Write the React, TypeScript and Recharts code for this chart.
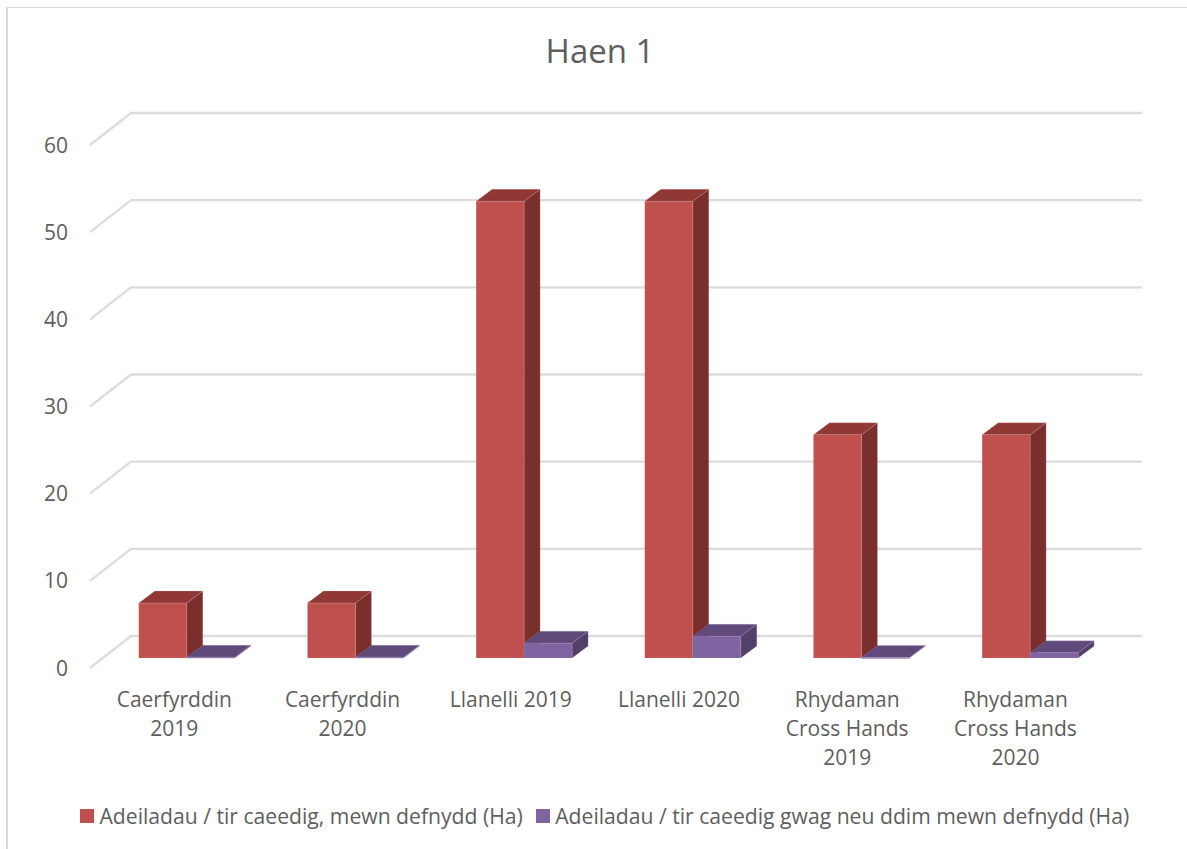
import React from "react";
import { BarChart, Bar, XAxis, YAxis, Legend, CartesianGrid } from "recharts";

const categories = [
  "Caerfyrddin 2019",
  "Caerfyrddin 2020",
  "Llanelli 2019",
  "Llanelli 2020",
  "Rhydaman Cross Hands 2019",
  "Rhydaman Cross Hands 2020",
];
const inUse = [6.3, 6.3, 52.4, 52.4, 25.6, 25.6];
const vacant = [0.1, 0.1, 1.7, 2.5, 0.05, 0.6];
const yTicks = [0, 10, 20, 30, 40, 50, 60];
const inUseName = "Adeiladau / tir caeedig, mewn defnydd (Ha)";
const vacantName = "Adeiladau / tir caeedig gwag neu ddim mewn defnydd (Ha)";
const titleText = "Haen 1";

const data = categories.map((name, i) => ({ name, inUse: inUse[i], vacant: vacant[i] }));

const FONT = '"Open Sans", "Noto Sans", sans-serif';
const TEXT = "#5e5e5e";
const GRID = "#dcdcdc";
const BAR_SHIFT = 12.8;
const DX = 16;
const DY = 12;

function Box3D(props: any) {
  const { x, y, width, height, front, top, side, edge } = props;
  const l = x + BAR_SHIFT;
  const r = l + width;
  const b = y + height;
  const st = { stroke: edge, strokeWidth: 0.6, strokeOpacity: 0.3 };
  return (
    <g>
      <polygon points={`${r},${y} ${r + DX},${y - DY} ${r + DX},${b - DY} ${r},${b}`} fill={side} {...st} />
      <polygon points={`${l},${y} ${l + DX},${y - DY} ${r + DX},${y - DY} ${r},${y}`} fill={top} {...st} />
      <rect x={l} y={y} width={width} height={Math.max(height, 1)} fill={front} {...st} />
    </g>
  );
}

function GridLine(props: any) {
  const { x1, y1 } = props;
  const x = x1;
  const y = y1;
  return (
    <polyline
      points={`${x},${y + 10} ${x + 41},${y - 22} ${x + 1052},${y - 22}`}
      fill="none"
      stroke={GRID}
      strokeWidth={2.4}
    />
  );
}

function YTick(props: any) {
  const { x, y, payload } = props;
  return (
    <text x={x - 22} y={y + 10} dy="0.36em" textAnchor="end" fontFamily={FONT} fontSize={21} fill={TEXT}>
      {payload.value}
    </text>
  );
}

function wrapWords(label: string) {
  const lines: string[] = [];
  let cur = "";
  for (const w of label.split(" ")) {
    const next = cur ? cur + " " + w : w;
    if (next.length > 13 && cur) {
      lines.push(cur);
      cur = w;
    } else cur = next;
  }
  lines.push(cur);
  return lines;
}

function XTick(props: any) {
  const { x, payload, index } = props;
  const cx = x - (index || 0) * 0.45;
  return (
    <text textAnchor="middle" fontFamily={FONT} fontSize={21} fill={TEXT}>
      {wrapWords(String(payload.value)).map((line, i) => (
        <tspan key={i} x={cx} y={707 + i * 29}>
          {line}
        </tspan>
      ))}
    </text>
  );
}

function LegendContent(props: any) {
  const items = props.payload || [];
  return (
    <div style={{ display: "flex", fontFamily: FONT, fontSize: 21.15, color: TEXT, whiteSpace: "nowrap", lineHeight: "28px" }}>
      {items.map((it: any, i: number) => (
        <div key={i} style={{ display: "flex", alignItems: "center", marginRight: 13 }}>
          <span style={{ width: 14, height: 14, background: it.color, marginRight: 5.5, display: "inline-block" }} />
          <span>{it.value}</span>
        </div>
      ))}
    </div>
  );
}

export default function App() {
  return (
    <div style={{ position: "absolute", left: 0, top: 0, width: 1187, height: 849, overflow: "hidden", background: "#fff" }}>
      <div style={{ position: "absolute", left: 6, top: 6.5, width: 1200, height: 900, borderLeft: "2px solid #d9d9d9", borderTop: "1.5px solid #d9d9d9" }} />
      <div style={{ position: "absolute", left: 0, width: 1200, top: 28, textAlign: "center", fontFamily: FONT, fontSize: 33, lineHeight: "46px", color: TEXT }}>
        {titleText}
      </div>
      <div style={{ position: "absolute", left: 0, top: 0 }}>
        <BarChart
          width={1187}
          height={849}
          data={data}
          barSize={48}
          barGap={0}
          margin={{ top: 135, right: 85, bottom: 61, left: 0 }}
        >
          <CartesianGrid vertical={false} horizontal={<GridLine />} />
          <XAxis dataKey="name" interval={0} height={100} axisLine={false} tickLine={false} tick={<XTick />} />
          <YAxis domain={[0, 60]} ticks={yTicks} width={90} axisLine={false} tickLine={false} tickSize={0} tickMargin={0} tick={<YTick />} />
          <Legend
            content={<LegendContent />}
            itemSorter={null}
            height={30}
            wrapperStyle={{ position: "absolute", left: 80, top: 802, bottom: "auto", width: 1100 }}
          />
          <Bar dataKey="inUse" name={inUseName} fill="#C0504D" isAnimationActive={false}
            shape={(p: any) => <Box3D {...p} front="#C0504D" top="#8F3836" side="#7B2F2D" edge="#e8b5b3" />} />
          <Bar dataKey="vacant" name={vacantName} fill="#8064A2" isAnimationActive={false}
            shape={(p: any) => <Box3D {...p} front="#8064A2" top="#604A7B" side="#534068" edge="#b9a6cf" />} />
        </BarChart>
      </div>
    </div>
  );
}
